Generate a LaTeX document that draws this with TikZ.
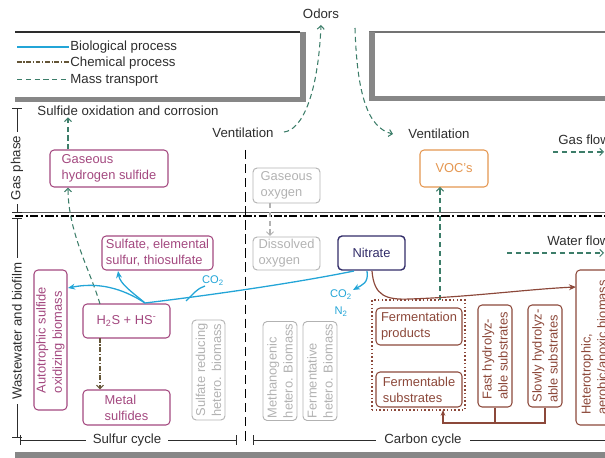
\documentclass[tikz,border=0pt]{standalone}
\usepackage{fontspec}
\setmainfont{Liberation Sans}
\usetikzlibrary{arrows.meta}
\definecolor{pinkc}{RGB}{163,72,127}
\definecolor{grayc}{RGB}{178,178,178}
\definecolor{navyc}{RGB}{50,45,105}
\definecolor{brownc}{RGB}{140,72,58}
\definecolor{orangec}{RGB}{228,150,80}
\definecolor{bluec}{RGB}{35,165,215}
\definecolor{greenc}{RGB}{60,125,105}
\definecolor{chemc}{RGB}{100,85,55}
\definecolor{txtc}{RGB}{45,45,45}
\definecolor{wallc}{RGB}{135,135,135}
\newcommand{\boxfs}{\fontsize{11}{13.8}\selectfont}
\newcommand{\labfs}{\fontsize{11.3}{13.5}\selectfont}
\newcommand{\smfs}{\fontsize{9.5}{11}\selectfont}
\begin{document}
\begin{tikzpicture}[x=0.03cm,y=-0.03cm,
  lab/.style={text=txtc, font=\labfs, inner sep=1pt},
  bx/.style={draw, rounded corners=3.5pt, line width=0.9pt, inner xsep=2pt, inner ysep=1pt, align=left, font=\boxfs},
  pinkbox/.style={bx, draw=pinkc, text=pinkc},
  graybox/.style={bx, draw=grayc, text=grayc, line width=0.8pt},
  brownbox/.style={bx, draw=brownc, text=brownc},
  bio/.style={draw=bluec, line width=1.1pt},
  bioarr/.style={bio, -{Stealth[length=6pt,width=5pt]}},
  chem/.style={draw=chemc, line width=0.9pt, dash pattern=on 4pt off 1.5pt on 1pt off 1.5pt},
  chemarr/.style={chem, -{Straight Barb[length=3pt,width=6pt]}},
  mass/.style={draw=greenc, line width=0.9pt, dash pattern=on 4.5pt off 3pt},
  massarr/.style={mass, -{Straight Barb[length=3pt,width=6pt]}},
  dim/.style={draw=txtc, line width=0.8pt},
  dimends/.style={dim, {Bar[width=8pt]}-{Bar[width=8pt]}},
]
\useasboundingbox (0,0) rectangle (605,458);
\clip (0,0) rectangle (605,458);

% ---- pipe walls ----
\draw[txtc, line width=1.2pt] (15,32) -- (300,32);
\fill[wallc] (15,97) rectangle (306,102);
\fill[wallc] (300,32) rectangle (306,102);
\draw[wallc!85!black, line width=1pt] (369,32) -- (605,32);
\fill[wallc] (369,32) rectangle (375,101);
\fill[wallc] (369,96) rectangle (605,101);
\fill[wallc] (15,452) rectangle (605,458);

% ---- interface and separator ----
\draw[wallc!70!black, line width=0.6pt] (15,212) -- (605,212);
\draw[black, line width=1.1pt, dash pattern=on 7pt off 2pt on 2pt off 2pt] (15,216) -- (605,216);
\draw[black, line width=0.8pt, dash pattern=on 8pt off 4pt] (245,150) -- (245,445);

% ---- legend ----
\node[lab, anchor=west] (lg1) at (69,47) {Biological process};
\node[lab, anchor=west] (lg2) at (69,63) {Chemical process};
\node[lab, anchor=west] (lg3) at (69,80) {Mass transport};
\coordinate (l1) at (17,47);
\coordinate (l2) at (17,62);
\coordinate (l3) at (17,79);
\draw[bio, line width=0.9pt] (l1) -- (lg1.west);
\draw[chem] (l2) -- (lg2.west |- l2);
\draw[mass, line width=0.7pt] (l3) -- (lg3.west |- l3);

% ---- labels ----
\node[lab] (odors) at (321,14) {Odors};
\node[lab] (vent1) at (243,133) {Ventilation};
\node[lab] (vent2) at (439,134) {Ventilation};
\node[lab] (soc) at (128,111) {Sulfide oxidation and corrosion};
\node[lab, anchor=west] (gasflow) at (557,140) {Gas flow};
\node[lab, anchor=west] (waterflow) at (546,241) {Water flow};

% ---- scales ----
\draw[dimends] (17,108) -- (17,213);
\node[lab, rotate=90, fill=white, inner xsep=3pt] (gasph) at (17,168) {Gas phase};
\draw[dimends] (17,218) -- (17,438);
\node[lab, rotate=90, fill=white, inner xsep=4pt] (ww) at (17,331) {Wastewater and biofilm};
\draw[dimends] (20,440) -- (237,440);
\node[lab, fill=white, inner xsep=6pt] (sc) at (127,440) {Sulfur cycle};
\draw[dim, {Bar[width=8pt]}-] (253,440) -- (610,440);
\node[lab, fill=white, inner xsep=7pt] (cc) at (423,440) {Carbon cycle};

% ---- sulfur nodes ----
\node[pinkbox, minimum width=3.54cm, minimum height=1.11cm] (gh2s) at (109,168.5) {Gaseous\\hydrogen sulfide};
\node[pinkbox, minimum width=3.33cm, minimum height=1.02cm] (sulf) at (157.5,253) {Sulfate, elemental\\sulfur, thiosulfate};
\node[pinkbox, rotate=90, minimum width=4.2cm, minimum height=0.99cm] (auto) at (50.5,340) {Autotrophic sulfide\\oxidizing biomass};
\node[pinkbox, align=center, minimum width=2.61cm, minimum height=1.02cm] (h2s) at (126.5,321) {H\textsubscript{2}S + HS\textsuperscript{-}};
\node[pinkbox, minimum width=2.61cm, minimum height=1.05cm] (metal) at (126.5,407.5) {Metal\\sulfides};
\node[graybox, rotate=90, minimum width=3.0cm, minimum height=0.99cm] (srb) at (208.5,370) {Sulfate reducing\\hetero. biomass};

% ---- oxygen / nitrate ----
\node[graybox, minimum width=2.01cm, minimum height=1.05cm] (gox) at (286.5,185.5) {Gaseous\\oxygen};
\node[graybox, minimum width=2.01cm, minimum height=0.99cm] (dox) at (286.5,253.5) {Dissolved\\oxygen};
\node[bx, draw=navyc, text=navyc, line width=1.2pt, align=center, minimum width=2.01cm, minimum height=1.02cm] (nitrate) at (371.5,253) {Nitrate};
\node[graybox, rotate=90, minimum width=2.94cm, minimum height=1.02cm] (meth) at (280,371) {Methanogenic\\hetero. Biomass};
\node[graybox, rotate=90, minimum width=2.94cm, minimum height=1.02cm] (ferm) at (320,371) {Fermentative\\hetero. Biomass};

% ---- carbon nodes ----
\node[bx, draw=orangec, text=orangec, align=center, minimum width=2.04cm, minimum height=1.11cm] (voc) at (454,168.5) {VOC's};
\node[draw=brownc, line width=1.2pt, dotted, minimum width=2.79cm, minimum height=3.3cm, inner sep=0pt] (grp) at (418.5,355) {};
\node[brownbox, minimum width=2.58cm, minimum height=1.11cm] (fprod) at (419,326.5) {Fermentation\\products};
\node[brownbox, minimum width=2.58cm, minimum height=1.05cm] (fsub) at (419,389.5) {Fermentable\\substrates};
\node[brownbox, rotate=90, minimum width=3.06cm, minimum height=1.02cm] (fast) at (495,356) {Fast hydrolyz-\\able substrates};
\node[brownbox, rotate=90, minimum width=3.06cm, minimum height=1.02cm] (slow) at (545,356) {Slowly hydrolyz-\\able substrates};
\node[brownbox, rotate=90, minimum width=4.65cm, minimum height=1.08cm] (het) at (594,347.5) {Heterotrophic,\\aerobic/anoxic biomass};

% ---- small labels ----
\node[text=bluec, font=\smfs, inner sep=0pt] (co2a) at (213,281) {CO\textsubscript{2}};
\node[text=bluec, font=\smfs, inner sep=0pt] (co2b) at (341,295) {CO\textsubscript{2}};
\node[text=bluec, font=\smfs, inner sep=0pt] (n2) at (341,312) {N\textsubscript{2}};

% ---- coordinates ----
\coordinate (x68) at (68,0);
\coordinate (h2sout) at (100,304);
\coordinate (h2sdown) at (100,338);
\coordinate (v1out) at (284,132);
\coordinate (odin) at (321,25);
\coordinate (top2) at (355,28);
\coordinate (v2in) at (393,134);
\coordinate (grpout) at (440,300);
\coordinate (vocin) at (440,187);
\coordinate (gf1) at (553,152);
\coordinate (gf2) at (604,152);
\coordinate (wf1) at (507,253);
\coordinate (wf2) at (604,253);
\coordinate (gox1) at (270,203);
\coordinate (dox1) at (270,236);
\coordinate (j1) at (145,303);
\coordinate (autoin) at (68,288);
\coordinate (sulfin) at (118,271);
\coordinate (nitout) at (354,271);
\coordinate (co2j) at (186,301);
\coordinate (co2t) at (205,286);
\coordinate (nitb) at (367,271);
\coordinate (co2in) at (353,290);
\coordinate (nitc) at (372,271);
\coordinate (hetin) at (576,287);
\coordinate (jn) at (545,423);
\coordinate (fsubin) at (443,410);

% ---- mass transport ----
\draw[massarr] (gh2s.north -| x68) -- (soc.south -| x68);
\draw[massarr] (h2sout) .. controls (90,270) and (68,232) .. (gh2s.south -| x68);
\draw[massarr] (v1out) .. controls (302,130) and (318,95) .. (odin);
\draw[massarr] (top2) .. controls (357,95) and (368,128) .. (v2in);
\draw[massarr] (grpout) -- (vocin);
\draw[massarr] (gf1) -- (gf2);
\draw[massarr] (wf1) -- (wf2);
\draw[mass, draw=grayc, -{Straight Barb[length=3pt,width=6pt]}] (gox1) -- (dox1);

% ---- chemical ----
\draw[chemarr] (h2sdown) -- (metal.north -| h2sdown);

% ---- biological ----
\draw[bio] (nitout) .. controls (300,282) and (220,294) .. (j1);
\draw[bioarr] (j1) .. controls (122,288) and (98,282) .. (autoin);
\draw[bioarr] (j1) .. controls (132,292) and (120,284) .. (sulfin);
\draw[bio] (co2j) .. controls (193,294) and (198,288) .. (co2t);
\draw[bioarr] (nitb) .. controls (369,283) and (362,285) .. (co2in);

% ---- carbon connectors ----
\draw[draw=brownc, line width=1pt, -{Stealth[length=6pt,width=5pt]}] (nitc) .. controls (374,296) and (386,300) .. (410,299) .. controls (470,297) and (530,289) .. (hetin);
\draw[draw=brownc, line width=1pt] (fast.west) -- (fast.west |- jn);
\draw[draw=brownc, line width=1pt, -{Stealth[length=5pt,width=4pt]}] (slow.west) -- (slow.west |- jn) -| (fsubin);
\end{tikzpicture}
\end{document}
